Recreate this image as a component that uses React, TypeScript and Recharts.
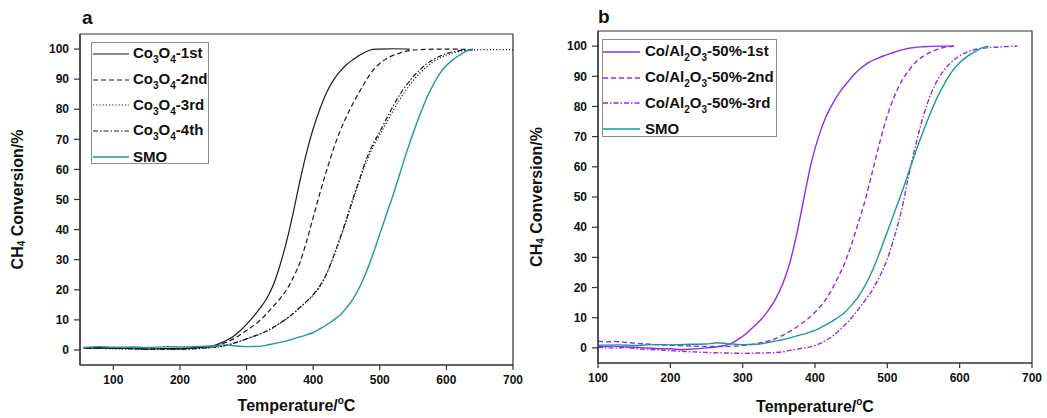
import React from 'react';
import { LineChart, Line, XAxis, YAxis, ReferenceArea, Legend, Label } from 'recharts';

type Pt = [number, number];

// ---------- Data (Temperature °C, CH4 conversion %) ----------
const xTicksA = [100, 200, 300, 400, 500, 600, 700];
const xTicksB = [100, 200, 300, 400, 500, 600, 700];
const yTicks = [0, 10, 20, 30, 40, 50, 60, 70, 80, 90, 100];

const co3o4_1st: Pt[] = [
  [55, 0.6], [80, 0.8], [100, 0.5], [130, 0.7], [150, 0.3], [180, 0.5], [200, 0.4], [220, 0.7], [240, 1.0],
  [250, 1.4], [260, 2.2], [270, 3.2], [280, 4.5], [290, 6.3], [300, 8.5], [310, 11], [320, 13.8], [330, 17],
  [340, 21.5], [350, 28], [360, 36], [370, 45.5], [380, 56], [390, 65.5], [400, 73.5], [410, 80], [420, 85.5],
  [430, 89.5], [440, 92.5], [450, 94.8], [460, 96.5], [470, 98], [480, 99.2], [490, 99.9], [500, 100],
  [520, 100.1], [545, 100],
];

const co3o4_2nd: Pt[] = [
  [60, 0.5], [100, 0.6], [150, 0.3], [200, 0.5], [230, 0.8], [250, 1.2], [260, 1.8], [270, 2.6], [280, 3.6],
  [290, 5], [300, 6.5], [310, 8], [320, 9.8], [330, 12], [340, 14.5], [350, 17], [360, 20], [370, 24], [380, 29],
  [390, 36], [400, 44], [410, 52], [420, 59.5], [430, 66.5], [440, 72.5], [450, 77.5], [460, 82], [470, 86],
  [480, 89.8], [490, 93], [500, 95.2], [510, 96.8], [520, 97.9], [530, 98.7], [540, 99.3], [560, 99.8],
  [600, 100], [640, 99.8],
];

const co3o4_3rd: Pt[] = [
  [60, 0.6], [100, 0.4], [150, 0.2], [200, 0.3], [240, 0.6], [260, 1.1], [270, 1.5], [280, 2.1], [290, 2.8],
  [300, 3.6], [310, 4.4], [320, 5.2], [330, 6.2], [340, 7.4], [350, 8.8], [360, 10.3], [370, 12], [380, 14],
  [390, 16], [400, 18.2], [410, 21], [420, 25], [430, 30.5], [440, 36.5], [450, 43], [460, 50], [470, 56.5],
  [480, 62.5], [490, 67.5], [500, 71.5], [510, 75.5], [520, 79.5], [530, 83.2], [540, 86.5], [550, 89.5],
  [560, 92], [570, 94], [580, 95.7], [590, 97], [600, 98], [620, 99.2], [640, 99.7], [670, 99.8], [700, 99.8],
];

const co3o4_4th: Pt[] = [
  [60, 0.5], [100, 0.5], [150, 0.3], [200, 0.2], [240, 0.7], [260, 1.2], [270, 1.6], [280, 2.2], [290, 2.9],
  [300, 3.7], [310, 4.5], [320, 5.3], [330, 6.3], [340, 7.5], [350, 8.9], [360, 10.4], [370, 12.1], [380, 14.1],
  [390, 16.1], [400, 18.4], [410, 21.3], [420, 25.3], [430, 30.8], [440, 37], [450, 43.5], [460, 50.5],
  [470, 57], [480, 63.5], [490, 68.5], [500, 72.5], [510, 76.8], [520, 81], [530, 84.8], [540, 88],
  [550, 90.8], [560, 93], [570, 95], [580, 96.5], [590, 97.6], [600, 98.5], [620, 99.5], [640, 99.8],
];

const smo: Pt[] = [
  [55, 0.8], [80, 1.1], [100, 0.9], [130, 1], [150, 0.8], [180, 1.1], [200, 1], [230, 1.2], [250, 1.3],
  [265, 1.7], [280, 1.4], [300, 1.1], [320, 1.2], [335, 1.8], [350, 2.5], [360, 3], [375, 4], [390, 5],
  [400, 5.8], [410, 7], [420, 8.3], [430, 9.8], [440, 11.5], [450, 14], [460, 17], [470, 21], [480, 26],
  [490, 32], [500, 38.5], [510, 45], [520, 51.5], [530, 58.5], [540, 65.5], [550, 72], [560, 78], [570, 83.5],
  [580, 88], [590, 91.8], [600, 94.5], [610, 96.5], [620, 98], [630, 99.3], [640, 100],
];

const coal_1st: Pt[] = [
  [100, 0.4], [120, 0.6], [140, 0.3], [160, 0.1], [180, -0.2], [200, -0.3], [215, -0.6], [230, -0.4], [250, 0],
  [265, 0.4], [275, 0.8], [285, 1.6], [295, 3], [305, 4.8], [315, 7], [325, 9.3], [335, 12.3], [345, 16],
  [355, 21], [365, 28], [375, 38], [385, 50], [395, 61.5], [405, 70], [415, 76.5], [425, 81.2], [435, 85],
  [445, 88], [455, 90.8], [465, 93], [475, 94.7], [485, 95.8], [495, 96.8], [505, 97.6], [515, 98.4],
  [530, 99.3], [550, 99.8], [570, 100], [592, 100],
];

const coal_2nd: Pt[] = [
  [100, 2.2], [110, 2], [125, 2.1], [140, 1.8], [160, 1.4], [180, 1.1], [200, 0.9], [220, 0.7], [250, 0.5],
  [280, 0.5], [300, 0.8], [320, 1.5], [340, 2.6], [360, 4.8], [380, 7.8], [400, 11.8], [420, 18], [430, 22.5],
  [440, 27.5], [450, 34], [460, 41.5], [470, 49.5], [480, 59], [490, 68.5], [500, 77], [510, 83.5], [520, 88.5],
  [530, 92], [540, 94.8], [550, 96.7], [560, 98], [570, 99], [580, 99.7], [595, 100],
];

const coal_3rd: Pt[] = [
  [100, 0.2], [120, 0], [140, 0.1], [160, -0.4], [180, -0.6], [200, -0.9], [220, -1.2], [240, -1.4], [260, -1.6],
  [280, -1.7], [300, -1.8], [320, -1.7], [340, -1.6], [355, -1.3], [370, -0.6], [385, 0], [400, 0.8], [410, 1.8],
  [420, 3.2], [430, 5], [440, 7.3], [450, 9.8], [460, 12.8], [470, 16], [480, 19.5], [490, 24], [500, 29.5],
  [510, 37], [520, 46], [530, 57.5], [540, 68], [550, 77], [560, 84], [570, 89], [580, 92.5], [590, 95],
  [600, 96.8], [610, 98], [620, 98.8], [640, 99.5], [660, 99.8], [680, 100],
];

// ---------- Styling ----------
const FONT = '"Liberation Sans", Arial, Helvetica, sans-serif';
const BLACK = '#1a1a1a';
const TEAL = '#1a9a95';
const PURPLE = '#8b2cf2';
const FRAME = '#333';

type Part = { t: string; sub?: boolean };
interface Series { key: string; label: Part[]; color: string; dash?: string; width: number; pts: Pt[] }

const seriesA: Series[] = [
  { key: 'a1', label: [{ t: 'Co' }, { t: '3', sub: true }, { t: 'O' }, { t: '4', sub: true }, { t: '-1st' }], color: BLACK, width: 1.2, pts: co3o4_1st },
  { key: 'a2', label: [{ t: 'Co' }, { t: '3', sub: true }, { t: 'O' }, { t: '4', sub: true }, { t: '-2nd' }], color: BLACK, dash: '5 3', width: 1.2, pts: co3o4_2nd },
  { key: 'a3', label: [{ t: 'Co' }, { t: '3', sub: true }, { t: 'O' }, { t: '4', sub: true }, { t: '-3rd' }], color: BLACK, dash: '1.2 2', width: 1.2, pts: co3o4_3rd },
  { key: 'a4', label: [{ t: 'Co' }, { t: '3', sub: true }, { t: 'O' }, { t: '4', sub: true }, { t: '-4th' }], color: BLACK, dash: '5 2 1.5 2', width: 1.2, pts: co3o4_4th },
  { key: 'a5', label: [{ t: 'SMO' }], color: TEAL, width: 1.4, pts: smo },
];

const seriesB: Series[] = [
  { key: 'b1', label: [{ t: 'Co/Al' }, { t: '2', sub: true }, { t: 'O' }, { t: '3', sub: true }, { t: '-50%-1st' }], color: PURPLE, width: 1.4, pts: coal_1st },
  { key: 'b2', label: [{ t: 'Co/Al' }, { t: '2', sub: true }, { t: 'O' }, { t: '3', sub: true }, { t: '-50%-2nd' }], color: PURPLE, dash: '5 3', width: 1.4, pts: coal_2nd },
  { key: 'b3', label: [{ t: 'Co/Al' }, { t: '2', sub: true }, { t: 'O' }, { t: '3', sub: true }, { t: '-50%-3rd' }], color: PURPLE, dash: '5 2 1.5 2', width: 1.4, pts: coal_3rd },
  { key: 'b4', label: [{ t: 'SMO' }], color: TEAL, width: 1.4, pts: smo },
];

const toRows = (pts: Pt[], minT: number) => pts.filter((p) => p[0] >= minT).map(([t, v]) => ({ t, v }));

function LegendBox({ items, width, height, sampleW, sampleLeft, gap, rowH, shift }: {
  items: Series[]; width: number; height: number; sampleW: number; sampleLeft: number; gap: number; rowH: number; shift: number;
}) {
  return (
    <div style={{ width, height, boxSizing: 'border-box', border: '1px solid #8a8a8a', background: '#fff', fontFamily: FONT, overflow: 'visible' }}>
      <div style={{ marginTop: shift }}>
        {items.map((s) => (
          <div key={s.key} style={{ display: 'flex', alignItems: 'center', height: rowH, whiteSpace: 'nowrap' }}>
            <svg width={sampleW} height={4} style={{ marginLeft: sampleLeft, display: 'block', flex: 'none' }}>
              <line x1={0} y1={2} x2={sampleW} y2={2} stroke={s.color} strokeWidth={s.width} strokeDasharray={s.dash} />
            </svg>
            <span style={{ marginLeft: gap, fontSize: 15, fontWeight: 'bold', color: '#111', lineHeight: '15px' }}>
              {s.label.map((p, i) =>
                p.sub ? (
                  <span key={i} style={{ fontSize: 10, position: 'relative', top: 5 }}>{p.t}</span>
                ) : (
                  <span key={i}>{p.t}</span>
                )
              )}
            </span>
          </div>
        ))}
      </div>
    </div>
  );
}

const yTitle = (cxOffset: number) => (props: any) => {
  const vb = props.viewBox || { x: 0, y: 0, width: 80, height: 330 };
  const cx = vb.x + cxOffset;
  const cy = vb.y + vb.height / 2;
  return (
    <text transform={`translate(${cx},${cy}) rotate(-90)`} textAnchor="middle" dominantBaseline="central"
      fontFamily={FONT} fontWeight="bold" fontSize={16} fill="#111">
      CH<tspan dy={4} fontSize={10}>4</tspan><tspan dy={-4}> Conversion/%</tspan>
    </text>
  );
};

const xTitle = (baseOffset: number) => (props: any) => {
  const vb = props.viewBox || { x: 0, y: 0, width: 400, height: 30 };
  const cx = vb.x + vb.width / 2;
  const y = vb.y + baseOffset;
  return (
    <text x={cx} y={y} textAnchor="middle" fontFamily={FONT} fontWeight="bold" fontSize={16} fill="#111">
      Temperature/<tspan dy={-7} fontSize={10}>o</tspan><tspan dy={7}>C</tspan>
    </text>
  );
};

const tickStyle = { fontSize: 12, fontWeight: 'bold' as const, fill: '#111', fontFamily: FONT };

function Panel({ series, xDomain, xTicks, width, margin, yAxisW, legendPos, legendProps, yTitleX, xTitleY, minT }: any) {
  return (
    <LineChart width={width} height={418} margin={margin}>
      <XAxis type="number" dataKey="t" domain={xDomain} ticks={xTicks} interval={0} allowDataOverflow
        height={30} tick={tickStyle} tickSize={5} tickMargin={5}
        axisLine={{ stroke: FRAME, strokeWidth: 1.2 }} tickLine={{ stroke: FRAME, strokeWidth: 1.2 }}>
        <Label content={xTitle(xTitleY)} />
      </XAxis>
      <YAxis type="number" domain={[-5, 105]} ticks={yTicks} interval={0} allowDataOverflow width={yAxisW}
        tick={tickStyle} tickSize={6} tickMargin={5}
        axisLine={{ stroke: FRAME, strokeWidth: 1.2 }} tickLine={{ stroke: FRAME, strokeWidth: 1.2 }}>
        <Label content={yTitle(yTitleX)} />
      </YAxis>
      <ReferenceArea x1={xDomain[0]} x2={xDomain[1]} y1={-5} y2={105} fill="none" fillOpacity={0}
        stroke={FRAME} strokeWidth={1.2} ifOverflow="visible" />
      {series.map((s: Series) => (
        <Line key={s.key} data={toRows(s.pts, minT)} dataKey="v" type="monotone" stroke={s.color}
          strokeWidth={s.width} strokeDasharray={s.dash} dot={false} activeDot={false}
          isAnimationActive={false} name={s.key} />
      ))}
      <Legend layout="vertical" align="center" verticalAlign="middle"
        wrapperStyle={{ left: legendPos.left, top: legendPos.top, width: 'auto', height: 'auto', right: 'auto', bottom: 'auto' }}
        content={() => <LegendBox items={series} {...legendProps} />} />
    </LineChart>
  );
}

export default function App() {
  const letter = { position: 'absolute' as const, fontFamily: FONT, fontWeight: 'bold' as const, fontSize: 19, color: '#111', lineHeight: '19px' };
  return (
    <div style={{ position: 'absolute', left: 0, top: 0, width: 1047, height: 418, background: '#fff', overflow: 'hidden' }}>
      <div style={{ position: 'absolute', left: 0, top: 0, width: 530, height: 418 }}>
        <Panel series={seriesA} xDomain={[50, 700]} xTicks={xTicksA} width={530}
          margin={{ top: 34, right: 17, bottom: 23, left: 0 }} yAxisW={80}
          legendPos={{ left: 91, top: 42 }}
          legendProps={{ width: 118, height: 122, sampleW: 36, sampleLeft: 1, gap: 4, rowH: 25.7, shift: -2 }}
          yTitleX={17} xTitleY={46} minT={50} />
      </div>
      <div style={{ position: 'absolute', left: 520, top: 0, width: 527, height: 418 }}>
        <Panel series={seriesB} xDomain={[100, 700]} xTicks={xTicksB} width={527}
          margin={{ top: 31, right: 15, bottom: 25, left: 0 }} yAxisW={78}
          legendPos={{ left: 82, top: 39 }}
          legendProps={{ width: 175, height: 98, sampleW: 37, sampleLeft: 0, gap: 5, rowH: 25.7, shift: -1 }}
          yTitleX={16} xTitleY={49} minT={100} />
      </div>
      <div style={{ ...letter, left: 82, top: 8 }}>a</div>
      <div style={{ ...letter, left: 598, top: 7 }}>b</div>
    </div>
  );
}
